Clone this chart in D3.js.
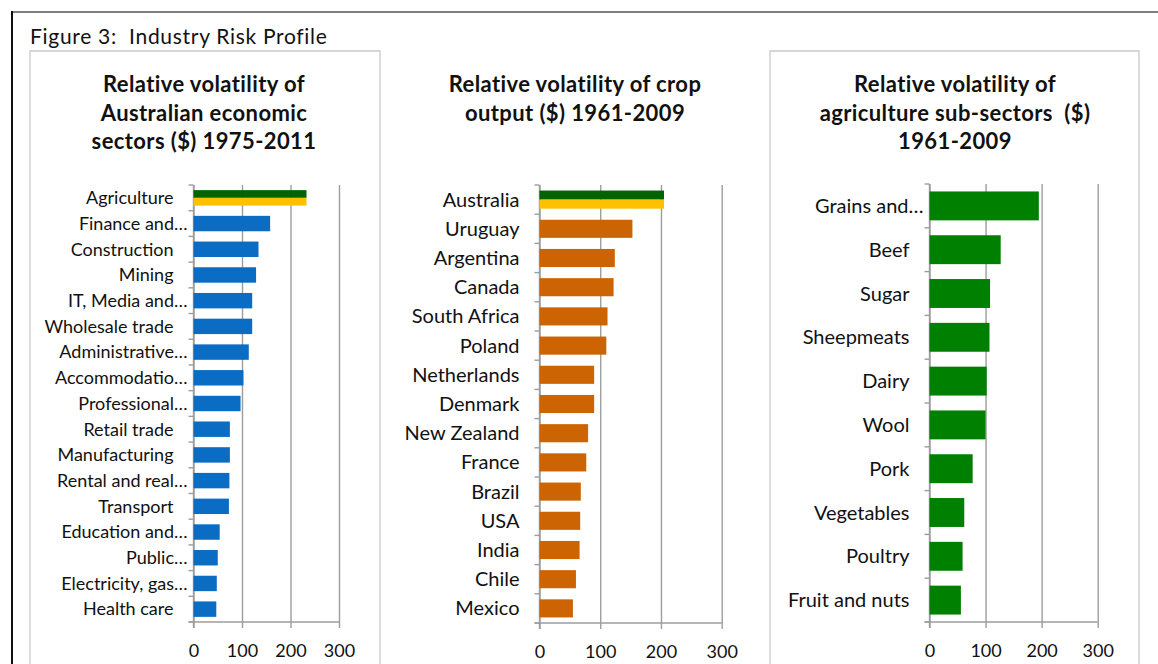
<!DOCTYPE html>
<html>
<head>
<meta charset="utf-8">
<script src="https://cdn.jsdelivr.net/npm/d3@7/dist/d3.min.js"></script>
<style>
  html, body { margin: 0; padding: 0; background: #fff; }
  svg { display: block; font-family: Lato, "Open Sans", sans-serif; }
</style>
</head>
<body>
<svg id="fig" width="1158" height="664"></svg>
<script>
// Relative volatility of Australian economic sectors ($) 1975-2011
const sectorNames = [
  "Agriculture", "Finance and…", "Construction", "Mining", "IT, Media and…",
  "Wholesale trade", "Administrative…", "Accommodatio…", "Professional…",
  "Retail trade", "Manufacturing", "Rental and real…", "Transport",
  "Education and…", "Public…", "Electricity, gas…", "Health care"
];
const sectorValues = [233, 158, 134, 129, 121, 121, 114, 103, 97, 75, 75, 74, 73, 54, 50, 48, 47];

// Relative volatility of crop output ($) 1961-2009
const cropCountries = [
  "Australia", "Uruguay", "Argentina", "Canada", "South Africa", "Poland",
  "Netherlands", "Denmark", "New Zealand", "France", "Brazil", "USA",
  "India", "Chile", "Mexico"
];
const cropValues = [205, 153, 124, 122, 112, 110, 90, 90, 80, 77, 68, 67, 66, 60, 55];

// Relative volatility of agriculture sub-sectors ($) 1961-2009
const subSectorNames = [
  "Grains and…", "Beef", "Sugar", "Sheepmeats", "Dairy", "Wool", "Pork",
  "Vegetables", "Poultry", "Fruit and nuts"
];
const subSectorValues = [195, 127, 108, 107, 102, 100, 77, 62, 59, 56];

const xTickValues = [0, 100, 200, 300];
const xDomain = [0, 300];

const svg = d3.select("#fig");

// outer figure frame
svg.append("line").attr("x1", 12).attr("x2", 1158).attr("y1", 12).attr("y2", 12)
  .attr("stroke", "#7f7f7f").attr("stroke-width", 2);
svg.append("line").attr("x1", 12).attr("x2", 12).attr("y1", 11).attr("y2", 664)
  .attr("stroke", "#111").attr("stroke-width", 2);

svg.append("text").attr("x", 30).attr("y", 43.5)
  .attr("font-size", 21).attr("letter-spacing", 0.7).attr("fill", "#111")
  .attr("xml:space", "preserve")
  .text("Figure 3:  Industry Risk Profile");

// chart area frames (left and right panels)
[[30, 51, 380], [770, 51, 1139]].forEach(([x1, y1, x2]) => {
  svg.append("path")
    .attr("d", `M${x1},670 V${y1} H${x2} V670`)
    .attr("fill", "none").attr("stroke", "#c9c9c9").attr("stroke-width", 1.3);
});

const panels = [
  {
    title: ["Relative volatility of", "Australian economic", "sectors ($) 1975-2011"],
    cx: 204, names: sectorNames, values: sectorValues,
    color: "#0a6cc2", highlight: true,
    x0: 193.5, x1: 339, yTop: 185, yBot: 622, pad: 0.4, fontSize: 18
  },
  {
    title: ["Relative volatility of crop", "output ($) 1961-2009"],
    cx: 575, names: cropCountries, values: cropValues,
    color: "#cc6404", highlight: true,
    x0: 539.5, x1: 721.7, yTop: 185, yBot: 623, pad: 0.38, fontSize: 20
  },
  {
    title: ["Relative volatility of", "agriculture sub-sectors  ($)", "1961-2009"],
    cx: 955, names: subSectorNames, values: subSectorValues,
    color: "#008000", highlight: false,
    x0: 929.5, x1: 1097.7, yTop: 184, yBot: 622, pad: 0.34, fontSize: 20
  }
];

const gridColor = "#9d9d9d";

panels.forEach(p => {
  const g = svg.append("g");

  // title
  const t = g.append("text")
    .attr("text-anchor", "middle").attr("font-weight", "bold")
    .attr("font-size", 22).attr("letter-spacing", 0.4).attr("fill", "#111")
    .attr("xml:space", "preserve");
  p.title.forEach((line, i) => {
    t.append("tspan").attr("x", p.cx).attr("y", 92 + i * 28.5).text(line);
  });

  const x = d3.scaleLinear().domain(xDomain).range([p.x0, p.x1]);
  const y = d3.scaleBand().domain(p.names).range([p.yTop, p.yBot])
    .paddingInner(p.pad).paddingOuter(p.pad / 2);
  const step = y.step();
  const h = p.yBot - p.yTop;

  // vertical gridlines + value tick labels
  const ax = g.append("g").attr("transform", `translate(0,${p.yTop})`)
    .call(d3.axisBottom(x).tickValues(xTickValues).tickSize(h + 6).tickPadding(16));
  ax.select(".domain").remove();
  ax.selectAll(".tick line").attr("stroke", gridColor).attr("stroke-width", 1.4);
  ax.selectAll(".tick text").attr("font-size", 18).attr("fill", "#111")
    .attr("font-family", "Lato, 'Open Sans', sans-serif");

  // category axis line and bottom axis line
  g.append("line").attr("x1", p.x0).attr("x2", p.x0).attr("y1", p.yTop).attr("y2", p.yBot + 6)
    .attr("stroke", gridColor).attr("stroke-width", 1.4);
  g.append("line").attr("x1", p.x0 - 5).attr("x2", p.x1).attr("y1", p.yBot).attr("y2", p.yBot)
    .attr("stroke", gridColor).attr("stroke-width", 1.4);

  // category boundary ticks
  g.selectAll(".cat-tick").data(d3.range(p.names.length + 1)).join("line")
    .attr("x1", p.x0 - 5).attr("x2", p.x0)
    .attr("y1", i => p.yTop + i * step).attr("y2", i => p.yTop + i * step)
    .attr("stroke", gridColor).attr("stroke-width", 1.4);

  const rows = p.names.map((name, i) => ({ name, value: p.values[i], i }));

  // bars
  g.selectAll(".bar").data(rows).join("g").each(function (d) {
    const sel = d3.select(this);
    const bw = x(d.value) - x(0);
    if (p.highlight && d.i === 0) {
      const half = y.bandwidth() / 2;
      sel.append("rect").attr("x", x(0)).attr("y", y(d.name))
        .attr("width", bw).attr("height", half).attr("fill", "#006400");
      sel.append("rect").attr("x", x(0)).attr("y", y(d.name) + half)
        .attr("width", bw).attr("height", half).attr("fill", "#ffc000");
    } else {
      sel.append("rect").attr("x", x(0)).attr("y", y(d.name))
        .attr("width", bw).attr("height", y.bandwidth()).attr("fill", p.color);
    }
  });

  // category labels
  g.selectAll(".cat-label").data(rows).join("text")
    .attr("text-anchor", "end")
    .attr("x", d => p.x0 - (d.name.endsWith("…") ? 6 : 20))
    .attr("y", d => y(d.name) + y.bandwidth() / 2)
    .attr("dy", "0.35em")
    .attr("font-size", p.fontSize).attr("fill", "#111")
    .text(d => d.name);
});
</script>
</body>
</html>
